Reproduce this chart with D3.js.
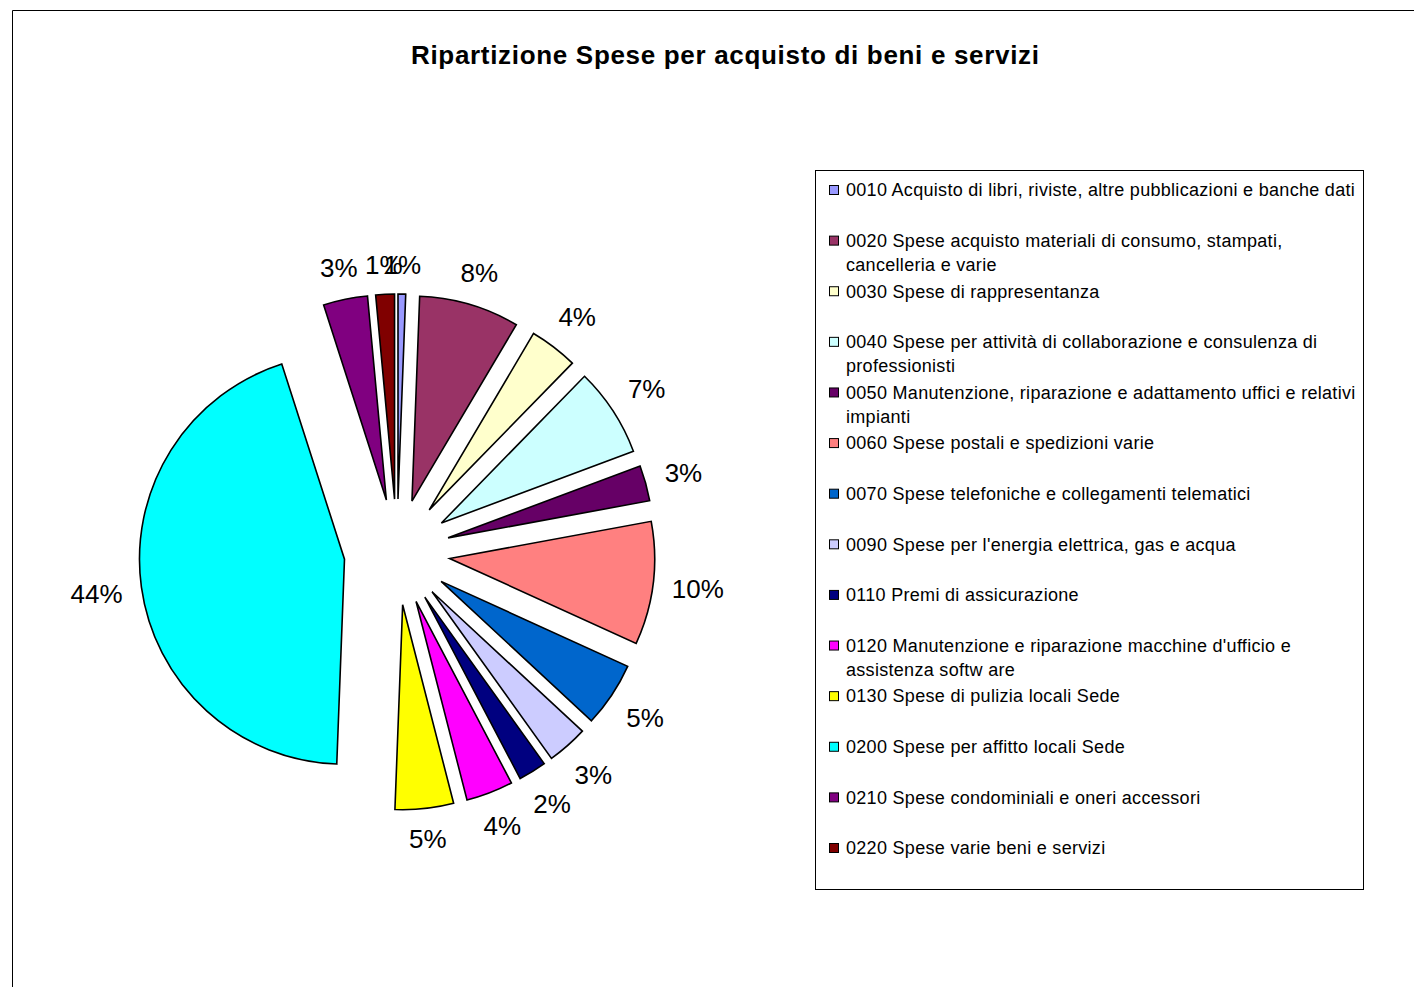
<!DOCTYPE html>
<html>
<head>
<meta charset="utf-8">
<script src="https://cdn.jsdelivr.net/npm/d3@7"></script>
<style>
  html, body { margin: 0; padding: 0; background: #fff; }
  svg { display: block; }
  text { font-family: "Liberation Sans", Arial, sans-serif; }
</style>
</head>
<body>
<div id="chart"></div>
<script>
// ---- data ----
const chartTitle = "Ripartizione Spese per acquisto di beni e servizi";
const codes = ["0010","0020","0030","0040","0050","0060","0070","0090","0110","0120","0130","0200","0210","0220"];
const categories = [
  "0010 Acquisto di libri, riviste, altre pubblicazioni e banche dati",
  "0020 Spese acquisto materiali di consumo, stampati,\ncancelleria e varie",
  "0030 Spese di rappresentanza",
  "0040 Spese per attività di collaborazione e consulenza di\nprofessionisti",
  "0050 Manutenzione, riparazione e adattamento uffici e relativi\nimpianti",
  "0060 Spese postali e spedizioni varie",
  "0070 Spese telefoniche e collegamenti telematici",
  "0090 Spese per l'energia elettrica, gas e acqua",
  "0110 Premi di assicurazione",
  "0120 Manutenzione e riparazione macchine d'ufficio e\nassistenza softw are",
  "0130 Spese di pulizia locali Sede",
  "0200 Spese per affitto locali Sede",
  "0210 Spese condominiali e oneri accessori",
  "0220 Spese varie beni e servizi"
];
// share of total (percent)
const values = [0.6, 7.9, 3.8, 7.0, 2.8, 9.7, 5.1, 3.2, 2.2, 3.7, 4.6, 44.45, 3.48, 1.47];
const colors = ["#9999FF","#993366","#FFFFCC","#CCFFFF","#660066","#FF8080","#0066CC",
                "#CCCCFF","#000080","#FF00FF","#FFFF00","#00FFFF","#800080","#800000"];

// ---- layout ----
const W = 1414, H = 987;
const cx = 397, cy = 552, R = 205, explode = 53;
const labelGap = 275;   // distance from pie centre to nearest edge of a label box

const svg = d3.select("#chart").append("svg").attr("width", W).attr("height", H);

// frame (top and left edges visible)
svg.append("line").attr("x1", 12.5).attr("y1", 10.5).attr("x2", W).attr("y2", 10.5)
  .attr("stroke", "#000").attr("stroke-width", 1);
svg.append("line").attr("x1", 12.5).attr("y1", 10.5).attr("x2", 12.5).attr("y2", H)
  .attr("stroke", "#000").attr("stroke-width", 1);

// title
svg.append("text").attr("x", 725).attr("y", 64)
  .attr("text-anchor", "middle").attr("font-weight", "bold").attr("font-size", 26)
  .attr("textLength", 628).attr("lengthAdjust", "spacing")
  .text(chartTitle);

// pie
const total = d3.sum(values);
const pie = d3.pie().sort(null).value(d => d).startAngle(0).endAngle(2 * Math.PI);
const arcs = pie(values);
const arc = d3.arc().innerRadius(0).outerRadius(R);

const g = svg.append("g").attr("transform", `translate(${cx},${cy})`);
g.selectAll("path.slice").data(arcs).join("path")
  .attr("class", "slice")
  .attr("d", arc)
  .attr("fill", (d, i) => colors[i])
  .attr("stroke", "#000").attr("stroke-width", 1.6).attr("stroke-linejoin", "miter")
  .attr("transform", d => {
    const a = (d.startAngle + d.endAngle) / 2;
    return `translate(${explode * Math.sin(a)},${-explode * Math.cos(a)})`;
  });

// percentage labels: box centred on the bisector ray, its nearest edge at labelGap
function boxDist(px, py, hw, hh) {
  const dx = Math.max(0, Math.abs(px) - hw);
  const dy = Math.max(0, Math.abs(py) - hh);
  return Math.hypot(dx, dy);
}
const fmt = v => Math.round(v / total * 100) + "%";
g.selectAll("text.pct").data(arcs).join("text")
  .attr("class", "pct")
  .attr("font-size", 26)
  .attr("text-anchor", "middle")
  .attr("dy", "0.36em")
  .text(d => fmt(d.value))
  .each(function(d) {
    const a = (d.startAngle + d.endAngle) / 2;
    const hw = this.getComputedTextLength() / 2 + 1, hh = 12;
    const ux = Math.sin(a), uy = -Math.cos(a);
    let lo = 0, hi = 600;
    for (let k = 0; k < 50; k++) {
      const s = (lo + hi) / 2;
      if (boxDist(ux * s, uy * s, hw, hh) < labelGap) lo = s; else hi = s;
    }
    d3.select(this).attr("x", ux * lo).attr("y", uy * lo);
  });

// legend
const lx = 815.5, ly = 170.5, lw = 548, lh = 719;
svg.append("rect").attr("x", lx).attr("y", ly).attr("width", lw).attr("height", lh)
  .attr("fill", "#fff").attr("stroke", "#000").attr("stroke-width", 1);

const rowY = d3.scaleLinear().domain([0, categories.length - 1]).range([190, 848]);
const leg = svg.append("g");
const items = leg.selectAll("g.item").data(categories).join("g").attr("class", "item");
items.append("rect")
  .attr("x", 829.5).attr("y", (d, i) => rowY(i) - 4.5)
  .attr("width", 9).attr("height", 9)
  .attr("fill", (d, i) => colors[i]).attr("stroke", "#000").attr("stroke-width", 1);
items.append("text")
  .attr("x", 846).attr("y", (d, i) => rowY(i))
  .attr("font-size", 18)
  .attr("letter-spacing", 0.3)
  .each(function(d) {
    const lines = d.split("\n");
    d3.select(this).selectAll("tspan").data(lines).join("tspan")
      .attr("x", 846)
      .attr("dy", (l, j) => j === 0 ? "0.35em" : 24)
      .text(l => l);
  });
</script>
</body>
</html>
